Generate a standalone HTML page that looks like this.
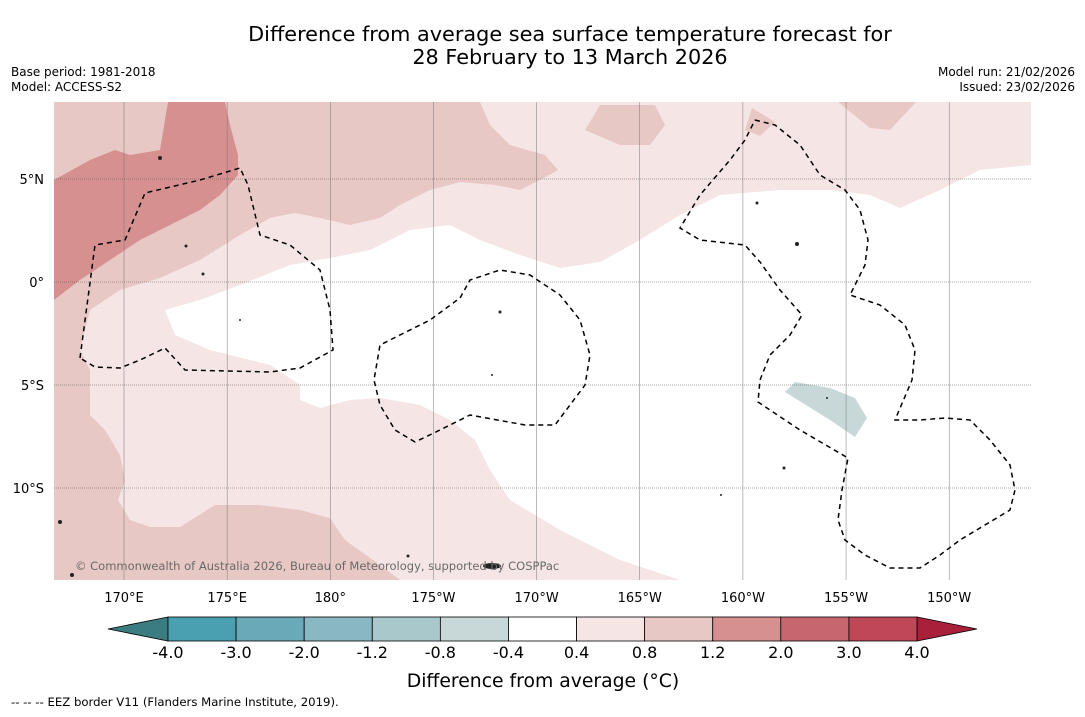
<!DOCTYPE html>
<html><head><meta charset="utf-8"><style>
html,body{margin:0;padding:0;background:#fff;}
body{width:1085px;height:713px;overflow:hidden;font-family:"DejaVu Sans","Liberation Sans",sans-serif;}
</style></head><body>
<svg id="chart" width="1085" height="713" viewBox="0 0 1085 713" xmlns="http://www.w3.org/2000/svg" font-family="DejaVu Sans, Liberation Sans, sans-serif">
<text x="570" y="41" font-size="20.8" text-anchor="middle">Difference from average sea surface temperature forecast for</text>
<text x="570" y="64" font-size="20.8" text-anchor="middle">28 February to 13 March 2026</text>
<text x="11" y="76" font-size="12">Base period: 1981-2018</text>
<text x="11" y="91" font-size="12">Model: ACCESS-S2</text>
<text x="1075" y="76" font-size="12" text-anchor="end">Model run: 21/02/2026</text>
<text x="1075" y="91" font-size="12" text-anchor="end">Issued: 23/02/2026</text>
<defs><clipPath id="mapclip"><rect x="54" y="102" width="977" height="478"/></clipPath></defs>
<g clip-path="url(#mapclip)">
<rect x="54" y="102" width="977" height="478" fill="#f5e6e5"/>
<polygon fill="#ffffff" points="165,310 175,335 210,350 270,365 300,385 300,400 320,408 350,400 380,398 420,405 450,420 475,440 490,470 510,500 560,530 620,560 680,580 1031,580 1031,165 980,170 940,190 900,208 870,195 830,190 780,190 720,195 680,215 640,240 600,262 560,268 520,255 480,240 450,225 410,230 370,250 330,258 290,265 240,285 200,300"/>
<polygon fill="#e8c8c4" points="54,102 480,102 490,125 510,145 545,155 558,170 540,180 520,190 495,185 460,182 430,190 400,205 380,218 350,225 320,218 295,213 270,218 240,235 200,260 160,278 120,290 90,310 80,350 90,370 90,415 105,430 120,455 125,480 118,500 130,520 150,527 180,527 215,505 260,505 300,510 330,518 345,540 380,565 400,580 54,580"/>
<polygon fill="#e8c8c4" points="585,130 600,105 655,105 665,125 650,145 620,145"/>
<polygon fill="#e8c8c4" points="745,130 752,108 775,122 760,136"/>
<polygon fill="#e8c8c4" points="838,102 916,102 890,130 870,128"/>
<polygon fill="#d5908f" points="54,180 90,160 115,150 130,155 160,150 168,102 225,102 230,125 238,155 238,175 220,195 200,210 170,225 140,240 110,260 80,280 54,300"/>
<polygon fill="#c8d8d8" points="785,392 795,382 830,388 855,398 867,418 855,437 830,420"/>
<g id="grid"></g>
<g fill="none" stroke="#000" stroke-width="1.5" stroke-dasharray="5,4">
<polyline points="80,358 95,245 125,240 145,193 200,180 240,168 248,185 260,235 290,245 320,270 330,310 333,350 300,368 270,372 185,370 165,348 140,360 120,368 95,367 80,358"/>
<polyline points="415,442 395,430 380,405 374,380 380,345 430,320 460,298 470,280 500,270 530,275 560,295 580,320 590,355 585,385 570,405 555,425 525,425 470,415 440,430 415,442"/>
<polyline points="755,120 775,125 800,145 820,175 845,190 860,210 868,240 865,265 850,295 880,305 905,325 915,350 912,380 895,420 920,420 945,418 970,420 990,440 1010,465 1015,490 1010,510 985,525 960,540 940,555 920,568 890,568 865,555 845,540 838,520 842,490 848,458 800,430 758,402 760,380 770,355 790,335 802,315 780,290 760,262 745,245 700,240 680,228 700,195 730,160 745,140 755,120"/>
</g>
<g fill="#222">
<circle cx="160" cy="158" r="2"/><circle cx="186" cy="246" r="1.5"/><circle cx="203" cy="274" r="1.5"/><circle cx="240" cy="320" r="1"/>
<circle cx="500" cy="312" r="1.5"/><circle cx="492" cy="375" r="1"/><circle cx="797" cy="244" r="2"/><circle cx="757" cy="203" r="1.5"/>
<ellipse cx="492" cy="566" rx="9" ry="3"/><circle cx="60" cy="522" r="2"/><circle cx="72" cy="575" r="2"/><circle cx="408" cy="556" r="1.5"/>
<circle cx="784" cy="468" r="1.5"/><circle cx="721" cy="495" r="1"/><circle cx="827" cy="398" r="1"/>
</g>
<text x="75" y="570" font-size="11.5" fill="#6a6a6a">© Commonwealth of Australia 2026, Bureau of Meteorology, supported by COSPPac</text>
</g>
<g id="axes"></g>
<g id="cbar"></g>
<text x="543" y="687" font-size="18.8" text-anchor="middle">Difference from average (°C)</text>
<text x="11" y="706" font-size="11.7">-- -- -- EEZ border V11 (Flanders Marine Institute, 2019).</text>
</svg>
<script>
const lonValues=[170,175,180,185,190,195,200,205,210];
const lonLabels=["170°E","175°E","180°","175°W","170°W","165°W","160°W","155°W","150°W"];
const latValues=[5,0,-5,-10];
const latLabels=["5°N","0°","5°S","10°S"];
const cbarTicks=["-4.0","-3.0","-2.0","-1.2","-0.8","-0.4","0.4","0.8","1.2","2.0","3.0","4.0"];
const cbarColors=["#4aa0b0","#6aaab8","#8ab8c2","#a9c8cc","#c8d8d8","#ffffff","#f5e6e5","#e8c8c4","#d5908f","#c86670","#be4858"];
const NS="http://www.w3.org/2000/svg";
const xLon=l=>124+(l-170)*20.63;
const yLat=l=>282-l*20.6;
function mk(tag,attrs,parent,text){const e=document.createElementNS(NS,tag);for(const k in attrs)e.setAttribute(k,attrs[k]);if(text!==undefined)e.textContent=text;parent.appendChild(e);return e;}
const grid=document.getElementById('grid'),axes=document.getElementById('axes');
lonValues.forEach((v,i)=>{const x=xLon(v);
const ln=mk('line',{x1:x,x2:x,y1:102,y2:580,stroke:'#777','stroke-width':0.5},grid);


const t=mk('text',{x:x,y:602,'font-size':13,'text-anchor':'middle'},axes,lonLabels[i]);

});
latValues.forEach((v,i)=>{const y=yLat(v);
const ln=mk('line',{x1:54,x2:1031,y1:y,y2:y,stroke:'#555','stroke-width':0.6,'stroke-dasharray':'1,1'},grid);


const t=mk('text',{x:44,y:y+5,'font-size':13,'text-anchor':'end'},axes,latLabels[i]);

});
const cb=document.getElementById('cbar');
const x0=168,x1=917,y0=617,h=24,w=(x1-x0)/cbarColors.length;
const lt=mk('polygon',{points:`${x0},${y0} 108,${y0+h/2} ${x0},${y0+h}`,fill:'#3a7c80',stroke:'#000','stroke-width':0.8},cb);


const rt=mk('polygon',{points:`${x1},${y0} 977,${y0+h/2} ${x1},${y0+h}`,fill:'#a8203a',stroke:'#000','stroke-width':0.8},cb);


cbarColors.forEach((c,i)=>{const r=mk('rect',{x:x0+i*w,y:y0,width:w,height:h,fill:c,stroke:'#000','stroke-width':0.8},cb);

});
cbarTicks.forEach((t,i)=>{const tx=mk('text',{x:x0+i*w,y:658,'font-size':16,'text-anchor':'middle'},cb,t);

});
</script>
</body></html>
